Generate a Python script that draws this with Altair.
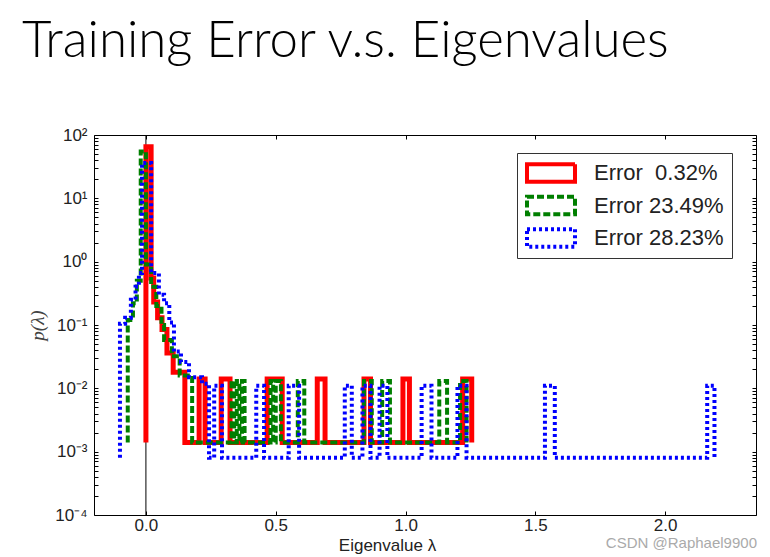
import altair as alt
import pandas as pd

# ---------------- data ----------------
title_text = "Training Error v.s. Eigenvalues"
x_title = "Eigenvalue λ"
y_title = "p(λ)"
watermark = "CSDN @Raphael9900"

series_names = ["Error\u00a0\u00a00.32%", "Error 23.49%", "Error 28.23%"]
series_colors = ["#ff0000", "#007f00", "#0000ff"]
series_dashes = [[1, 0], [7, 3], [3, 3]]

# step outlines: level p holds from lam[i] to lam[i+1]
red_lam = [0.0, 0.0, 0.02, 0.03, 0.045, 0.062, 0.081, 0.105, 0.15, 0.205, 0.228,
           0.29, 0.324, 0.467, 0.525, 0.66, 0.69, 0.84, 0.865, 0.99, 1.015, 1.22, 1.255]
red_p = [0.0014, 65, 0.55, 0.23, 0.13, 0.085, 0.036, 0.018, 0.0014, 0.014, 0.0014,
         0.014, 0.0014, 0.014, 0.0014, 0.014, 0.0014, 0.014, 0.0014, 0.014, 0.0014, 0.014, 0.0014]

green_lam = [-0.07, -0.07, -0.05, -0.035, -0.02, 0.0, 0.02, 0.04, 0.06, 0.07, 0.10, 0.13, 0.178,
             0.33, 0.34, 0.35, 0.36, 0.37, 0.38, 0.48, 0.49, 0.50, 0.52, 0.585, 0.61,
             0.84, 0.87, 0.91, 0.94, 1.13, 1.16, 1.21, 1.235]
green_p = [0.0014, 0.12, 0.22, 0.5, 55, 0.9, 0.4, 0.2, 0.1, 0.058, 0.032, 0.016, 0.0014,
           0.013, 0.0014, 0.013, 0.0014, 0.013, 0.0014, 0.013, 0.0014, 0.013, 0.0014, 0.013, 0.0014,
           0.013, 0.0014, 0.013, 0.0014, 0.013, 0.0014, 0.013, 0.0014]

blue_lam = [-0.1, -0.1, -0.08, -0.058, -0.04, -0.027, -0.015, 0.02, 0.05, 0.07, 0.09, 0.108,
            0.135, 0.166, 0.216, 0.243, 0.263, 0.293, 0.425, 0.455, 0.55, 0.59, 0.766, 0.793,
            0.834, 0.865, 0.9, 0.93, 1.062, 1.1, 1.2, 1.235, 1.537, 1.575, 2.162, 2.19]
blue_p = [0.0008, 0.105, 0.13, 0.25, 0.4, 0.66, 36, 0.66, 0.3, 0.22, 0.11, 0.038,
          0.026, 0.015, 0.0118, 0.0008, 0.011, 0.0008, 0.011, 0.0008, 0.011, 0.0008, 0.011, 0.0008,
          0.011, 0.0008, 0.011, 0.0008, 0.011, 0.0008, 0.011, 0.0008, 0.011, 0.0008, 0.011, 0.0008]

zero_line = [0.0]

x_ticks = [0.0, 0.5, 1.0, 1.5, 2.0]
y_ticks = [m * 10.0 ** k for k in range(-4, 2) for m in range(1, 10)] + [100.0]

# ---------------- build table ----------------
rows = []
for name, xs, ys in zip(series_names, [red_lam, green_lam, blue_lam], [red_p, green_p, blue_p]):
    for i, (a, b) in enumerate(zip(xs, ys)):
        rows.append({"series": name, "lam": a, "p": b, "i": i})
df = pd.DataFrame(rows)

x_scale = alt.Scale(domain=[-0.2, 2.35], nice=False, zero=False)
y_scale = alt.Scale(type="log", domain=[1e-4, 1e2], nice=False)

x_axis = alt.Axis(values=x_ticks, format=".1f", domain=False, grid=False,
                  offset=-4, tickSize=4, tickColor="black", labelPadding=2,
                  labelFont="Liberation Sans", labelFontSize=17, labelColor="#222",
                  titleFont="Liberation Sans", titleFontSize=17, titleFontWeight="normal",
                  titleColor="#222", titleX=293, titleY=34, titleAnchor="start",
                  titleAlign="center", titleBaseline="middle")

dec = "round(log(datum.value)/LN10)"
y_label_expr = (f"abs(log(datum.value)/LN10 - {dec}) < 0.001 ? "
                f"'10' + ({dec} < 0 ? '⁻' : '') + ['⁰','¹','²','³','⁴'][abs({dec})] : ''")
y_axis = alt.Axis(values=y_ticks, labelExpr=y_label_expr, domain=False, grid=False,
                  offset=-4, tickSize=4, tickColor="black", labelPadding=7,
                  labelOverlap=False, labelFont="Liberation Sans", labelFontSize=17,
                  labelColor="#222", titleFont="Liberation Serif", titleFontStyle="italic",
                  titleFontSize=19, titleFontWeight="normal", titleColor="#444",
                  titleX=-61, titleY=190, titleAngle=-90, titleAlign="center",
                  titleBaseline="middle")

# mirrored tick-only axes (top / right), ticks pointing inward
x_axis_top = alt.Axis(orient="top", values=x_ticks, labels=False, domain=False, grid=False,
                      offset=-4, tickSize=4, tickColor="black", title=None)
y_axis_right = alt.Axis(orient="right", values=y_ticks, labels=False, domain=False, grid=False,
                        offset=-4, tickSize=4, tickColor="black", title=None)

legend = alt.Legend(title=None, orient="none", legendX=423, legendY=18,
                    symbolType="M-1,-0.36H1V0.36H-1Z", symbolSize=2304,
                    symbolStrokeWidth=4, symbolFillColor="transparent",
                    clipHeight=24, rowPadding=8.5, labelOffset=17,
                    labelFont="Liberation Sans", labelFontSize=22, labelColor="#222",
                    strokeColor="#333", fillColor="white", padding=8, cornerRadius=0)

color = alt.Color("series:N", scale=alt.Scale(domain=series_names, range=series_colors),
                  legend=legend)
dash = alt.StrokeDash("series:N", scale=alt.Scale(domain=series_names, range=series_dashes),
                      legend=legend)

axes_per_layer = [
    (x_axis, y_axis),
    (None, None),
    (x_axis_top, y_axis_right),
]
widths = [5, 4, 4]
layers = []
for name, w, (ax, ay) in zip(series_names, widths, axes_per_layer):
    layers.append(
        alt.Chart(df).transform_filter(alt.datum.series == name)
        .mark_line(interpolate="step-after", strokeWidth=w, strokeCap="butt", strokeJoin="miter")
        .encode(
            x=alt.X("lam:Q", scale=x_scale, axis=ax, title=x_title),
            y=alt.Y("p:Q", scale=y_scale, axis=ay, title=y_title),
            color=color,
            strokeDash=dash,
            order=alt.Order("i:Q"),
        )
    )

zero = alt.Chart(pd.DataFrame({"z": zero_line})).mark_rule(color="black", strokeWidth=1).encode(
    x=alt.X("z:Q", scale=x_scale, axis=None)
)

mark_text = alt.Chart(pd.DataFrame({"t": [watermark]})).mark_text(
    font="Liberation Sans", fontSize=15, color="#aaaaaa", align="right", baseline="middle"
).encode(text="t:N", x=alt.value(663), y=alt.value(408))

chart = alt.layer(zero, *layers, mark_text).resolve_scale(
    x="shared", y="shared"
).resolve_axis(
    x="independent", y="independent"
).properties(
    width=662, height=380,
    background="white",
    view=alt.ViewBackground(stroke="black", strokeWidth=1),
    padding={"left": 94, "top": 135, "right": 14, "bottom": 42},
    autosize=alt.AutoSizeParams(type="none"),
    title=alt.TitleParams(text=title_text, anchor="start", frame="group", font="Lato",
                          fontSize=51, fontWeight=300, color="black", dx=-72, offset=18,
                          baseline="alphabetic"),
).configure_view(stroke="black", strokeWidth=1)

chart.save("out.html", embed_options={"renderer": "svg", "actions": False})
